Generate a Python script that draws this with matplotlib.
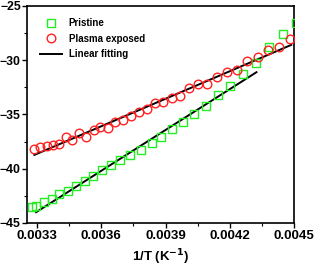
import numpy as np
import matplotlib
matplotlib.use("Agg")
import matplotlib.pyplot as plt
from matplotlib.ticker import MultipleLocator

plt.rcParams['font.family'] = ['Liberation Sans', 'DejaVu Sans']
plt.rcParams['font.weight'] = 'bold'

# Pristine sample (1/T vs ln value)
pristine_x = [0.003275, 0.003295, 0.003333, 0.003369, 0.003404, 0.003443, 0.003482,
              0.003524, 0.003563, 0.003605, 0.003646, 0.003687, 0.003734, 0.003785,
              0.003835, 0.003879, 0.003928, 0.003983, 0.004033, 0.004087, 0.004146,
              0.004200, 0.004260, 0.004322, 0.004384, 0.004449, 0.004508]
pristine_y = [-43.55, -43.43, -43.06, -42.76, -42.35, -42.02, -41.59,
              -41.16, -40.67, -40.12, -39.70, -39.19, -38.73, -38.27,
              -37.65, -37.05, -36.36, -35.66, -34.92, -34.22, -33.23,
              -32.37, -31.29, -30.23, -28.81, -27.61, -26.57]

# Plasma exposed sample
plasma_x = [0.003284, 0.003314, 0.003345, 0.003376, 0.003404, 0.003434, 0.003463,
            0.003496, 0.003529, 0.003565, 0.003594, 0.003630, 0.003664, 0.003701,
            0.003739, 0.003775, 0.003812, 0.003851, 0.003888, 0.003928, 0.003967,
            0.004012, 0.004053, 0.004096, 0.004142, 0.004186, 0.004233, 0.004281,
            0.004330, 0.004379, 0.004430, 0.004483]
plasma_y = [-38.18, -38.04, -37.90, -37.81, -37.72, -37.07, -37.40,
            -36.71, -37.05, -36.47, -36.12, -36.24, -35.71, -35.51,
            -35.14, -34.82, -34.54, -33.94, -33.87, -33.51, -33.32,
            -32.60, -32.21, -32.22, -31.52, -31.06, -30.87, -30.10,
            -29.67, -29.10, -28.81, -28.07]

# linear fit end points
pristine_fit_x = [0.003295, 0.004325]
pristine_fit_y = [-44.01, -31.11]
plasma_fit_x = [0.003287, 0.004488]
plasma_fit_y = [-38.73, -28.59]

xtick_labels = ['0.0033', '0.0036', '0.0039', '0.0042', '0.0045']

fig = plt.figure(figsize=(3.15, 2.68), dpi=100)
ax = fig.add_axes([0.086, 0.168, 0.847, 0.81])

ax.plot(pristine_x, pristine_y, 's', mfc='none', mec='#22ee22', ms=5.5, mew=1.0,
        label='Pristine', zorder=3)
ax.plot(plasma_x, plasma_y, 'o', mfc='none', mec='#ff2020', ms=6.2, mew=1.0,
        label='Plasma exposed', zorder=3)
ax.plot(pristine_fit_x, pristine_fit_y, '-', color='black', lw=1.4, label='Linear fitting')
ax.plot(plasma_fit_x, plasma_fit_y, '-', color='black', lw=1.4)

ax.set_xlim(0.003253, 0.0045)
ax.set_ylim(-45, -25)
ax.xaxis.set_minor_locator(MultipleLocator(0.00015))
ax.yaxis.set_major_locator(MultipleLocator(5))
ax.yaxis.set_minor_locator(MultipleLocator(2.5))
ax.set_xticks([float(t) for t in xtick_labels])
ax.set_xticklabels(xtick_labels)
ax.tick_params(which='major', direction='out', length=3.5, width=1.0, pad=1.5)
ax.tick_params(axis='x', which='major', labelsize=9.5)
ax.tick_params(axis='y', which='major', labelsize=8.8, pad=1)
ax.tick_params(which='minor', direction='out', length=2, width=0.8)
for lab in ax.get_xticklabels() + ax.get_yticklabels():
    lab.set_fontweight('bold')
for s in ax.spines.values():
    s.set_linewidth(1.2)

ax.set_xlabel('1/T (K$^{\\mathbf{-1}}$)', fontsize=9.5, fontweight='bold', labelpad=4)

ax.legend(loc='upper left', bbox_to_anchor=(0.035, 0.96), frameon=False,
          prop={'size': 7, 'weight': 'bold'}, handlelength=2.2, handletextpad=0.7,
          labelspacing=0.55, borderaxespad=0)

fig.savefig('out.png', dpi=100)
